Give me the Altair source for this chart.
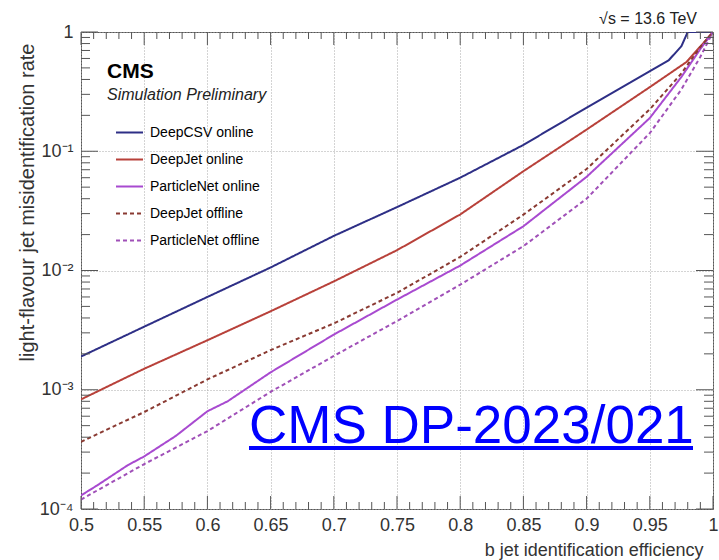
import altair as alt
import pandas as pd

# ---- data ----
deepcsv_on_eff = [0.50, 0.55, 0.60, 0.65, 0.70, 0.75, 0.80, 0.85, 0.90, 0.95, 0.965, 0.975, 0.98, 1.00]
deepcsv_on_rate = [1.9e-3, 3.38e-3, 6.0e-3, 1.06e-2, 1.95e-2, 3.4e-2, 6.0e-2, 0.113, 0.232, 0.47, 0.58, 0.76, 1.0, 1.0]

deepjet_on_eff = [0.50, 0.55, 0.60, 0.65, 0.70, 0.75, 0.80, 0.85, 0.90, 0.95, 0.979, 0.9925, 1.00]
deepjet_on_rate = [8.3e-4, 1.5e-3, 2.6e-3, 4.55e-3, 8.1e-3, 1.48e-2, 2.95e-2, 6.8e-2, 0.152, 0.345, 0.56, 0.81, 1.0]

pnet_on_eff = [0.50, 0.5125, 0.537, 0.55, 0.575, 0.60, 0.616, 0.65, 0.70, 0.75, 0.80, 0.85, 0.90, 0.95, 0.975, 0.99, 1.00]
pnet_on_rate = [1.3e-4, 1.57e-4, 2.33e-4, 2.76e-4, 4.1e-4, 6.6e-4, 8.0e-4, 1.4e-3, 2.9e-3, 5.7e-3, 1.1e-2, 2.35e-2, 6.1e-2, 0.19, 0.42, 0.72, 1.0]

deepjet_off_eff = [0.50, 0.55, 0.60, 0.65, 0.70, 0.75, 0.80, 0.85, 0.90, 0.95, 0.975, 0.99, 1.00]
deepjet_off_rate = [3.66e-4, 6.5e-4, 1.22e-3, 2.15e-3, 3.6e-3, 6.5e-3, 1.3e-2, 2.94e-2, 7.1e-2, 0.225, 0.45, 0.75, 1.0]

pnet_off_eff = [0.50, 0.55, 0.60, 0.65, 0.70, 0.75, 0.80, 0.85, 0.90, 0.95, 0.975, 0.99, 1.00]
pnet_off_rate = [1.2e-4, 2.38e-4, 4.5e-4, 9.6e-4, 1.92e-3, 3.77e-3, 7.6e-3, 1.6e-2, 4.0e-2, 0.142, 0.33, 0.62, 1.0]

names = ["DeepCSV online", "DeepJet online", "ParticleNet online", "DeepJet offline", "ParticleNet offline"]
colors = ["#2e2f86", "#b8413a", "#a84ad0", "#8a3a32", "#a050b8"]
dashes = [[1, 0], [1, 0], [1, 0], [4, 3], [4, 3]]

x_major = [0.5, 0.55, 0.6, 0.65, 0.7, 0.75, 0.8, 0.85, 0.9, 0.95, 1.0]
x_minor = [round(0.5 + i * 0.01, 2) for i in range(51) if i % 5 != 0]
y_major = [1e-4, 1e-3, 1e-2, 1e-1, 1.0]
y_minor = [k * 10.0 ** e for e in range(-4, 0) for k in range(2, 10)]

series = [
    (names[0], deepcsv_on_eff, deepcsv_on_rate),
    (names[1], deepjet_on_eff, deepjet_on_rate),
    (names[2], pnet_on_eff, pnet_on_rate),
    (names[3], deepjet_off_eff, deepjet_off_rate),
    (names[4], pnet_off_eff, pnet_off_rate),
]
rows = []
for n, xs, ys in series:
    for i, (a, b) in enumerate(zip(xs, ys)):
        rows.append({"tagger": n, "eff": a, "rate": b, "order": i})
df = pd.DataFrame(rows)

W, H = 632, 477
FONT = "Liberation Sans"

xscale = alt.Scale(domain=[0.5, 1.0], nice=False, zero=False)
yscale = alt.Scale(type="log", domain=[1e-4, 1.0], nice=False)

ylabel_expr = ("datum.value >= 0.9 ? '1' : datum.value >= 0.09 ? '10\u207b\u00b9' : "
               "datum.value >= 0.009 ? '10\u207b\u00b2' : datum.value >= 0.0009 ? '10\u207b\u00b3' : '10\u207b\u2074'")

lines = alt.Chart(df).mark_line(strokeWidth=2, clip=True).encode(
    x=alt.X("eff:Q", scale=xscale,
            axis=alt.Axis(values=x_major, format="~g", title="b jet identification efficiency",
                          titleX=622, titleY=46, titleAlign="right", titleBaseline="alphabetic",
                          titleFontSize=18, labelFontSize=18, labelPadding=7,
                          ticks=False, domain=False, grid=True, gridDash=[1, 2], gridColor="#a8a8a8",
                          labelFlush=False)),
    y=alt.Y("rate:Q", scale=yscale,
            axis=alt.Axis(values=y_major, labelExpr=ylabel_expr,
                          title="light-flavour jet misidentification rate",
                          titleX=-54, titleY=11, titleAngle=270, titleAlign="right", titleBaseline="middle",
                          titleFontSize=20, labelFontSize=18, labelPadding=8,
                          ticks=False, domain=False, grid=True, gridDash=[1, 2], gridColor="#a8a8a8")),
    color=alt.Color("tagger:N", scale=alt.Scale(domain=names, range=colors), title=None,
                    legend=alt.Legend(orient="none", legendX=34, legendY=86, symbolType="stroke",
                                      symbolSize=729, symbolStrokeWidth=2, labelFontSize=14,
                                      labelFont=FONT, rowPadding=5, padding=0, labelOffset=6,
                                      labelLimit=300)),
    strokeDash=alt.StrokeDash("tagger:N", scale=alt.Scale(domain=names, range=dashes), title=None),
    order="order:Q",
)

def xticks(vals, length, top):
    d = pd.DataFrame({"v": vals})
    if top:
        yy, yy2 = 0, length
    else:
        yy, yy2 = H, H - length
    return alt.Chart(d).mark_rule(color="#555", strokeWidth=1).encode(
        x=alt.X("v:Q", scale=xscale, axis=None), y=alt.value(yy), y2=alt.value(yy2))

def yticks(vals, length, right):
    d = pd.DataFrame({"v": vals})
    if right:
        xx, xx2 = W, W - length
    else:
        xx, xx2 = 0, length
    return alt.Chart(d).mark_rule(color="#555", strokeWidth=1).encode(
        y=alt.Y("v:Q", scale=yscale, axis=None), x=alt.value(xx), x2=alt.value(xx2))

ticks = [
    xticks(x_major, 13, False), xticks(x_minor, 7, False),
    xticks(x_major, 13, True), xticks(x_minor, 7, True),
    yticks(y_major, 17, False), yticks(y_minor, 9, False),
    yticks(y_major, 17, True), yticks(y_minor, 9, True),
]

def label(txt, x, y, size, **kw):
    return alt.Chart(pd.DataFrame({"t": [txt]})).mark_text(
        fontSize=size, font=FONT, baseline="alphabetic", **kw
    ).encode(text="t:N", x=alt.value(x), y=alt.value(y))

cms = label("CMS", 26, 46, 21, fontWeight="bold", align="left", color="black")
sim = label("Simulation Preliminary", 26, 68, 16, fontStyle="italic", align="left", color="#222")
energy = label("\u221as = 13.6 TeV", 616, -8, 16, align="right", color="#222")
dp = label("CMS DP-2023/021", 168, 411, 53, align="left", color="#0000ff")
underline = alt.Chart(pd.DataFrame({"t": [0]})).mark_rule(color="#0000ff", strokeWidth=4).encode(
    x=alt.value(168), x2=alt.value(612), y=alt.value(416))

chart = alt.layer(lines, *ticks, cms, sim, energy, dp, underline).resolve_axis(
    x="independent", y="independent"
).properties(
    width=W, height=H,
    autosize=alt.AutoSizeParams(type="none"),
    padding={"left": 81, "top": 32, "right": 6, "bottom": 51},
    background="white",
).configure_view(stroke="#555", strokeWidth=1).configure_axis(
    labelFont=FONT, titleFont=FONT, labelColor="#333", titleColor="#333",
    titleFontWeight="normal"
)

chart.save("out.html", embed_options={"renderer": "svg", "actions": False})
